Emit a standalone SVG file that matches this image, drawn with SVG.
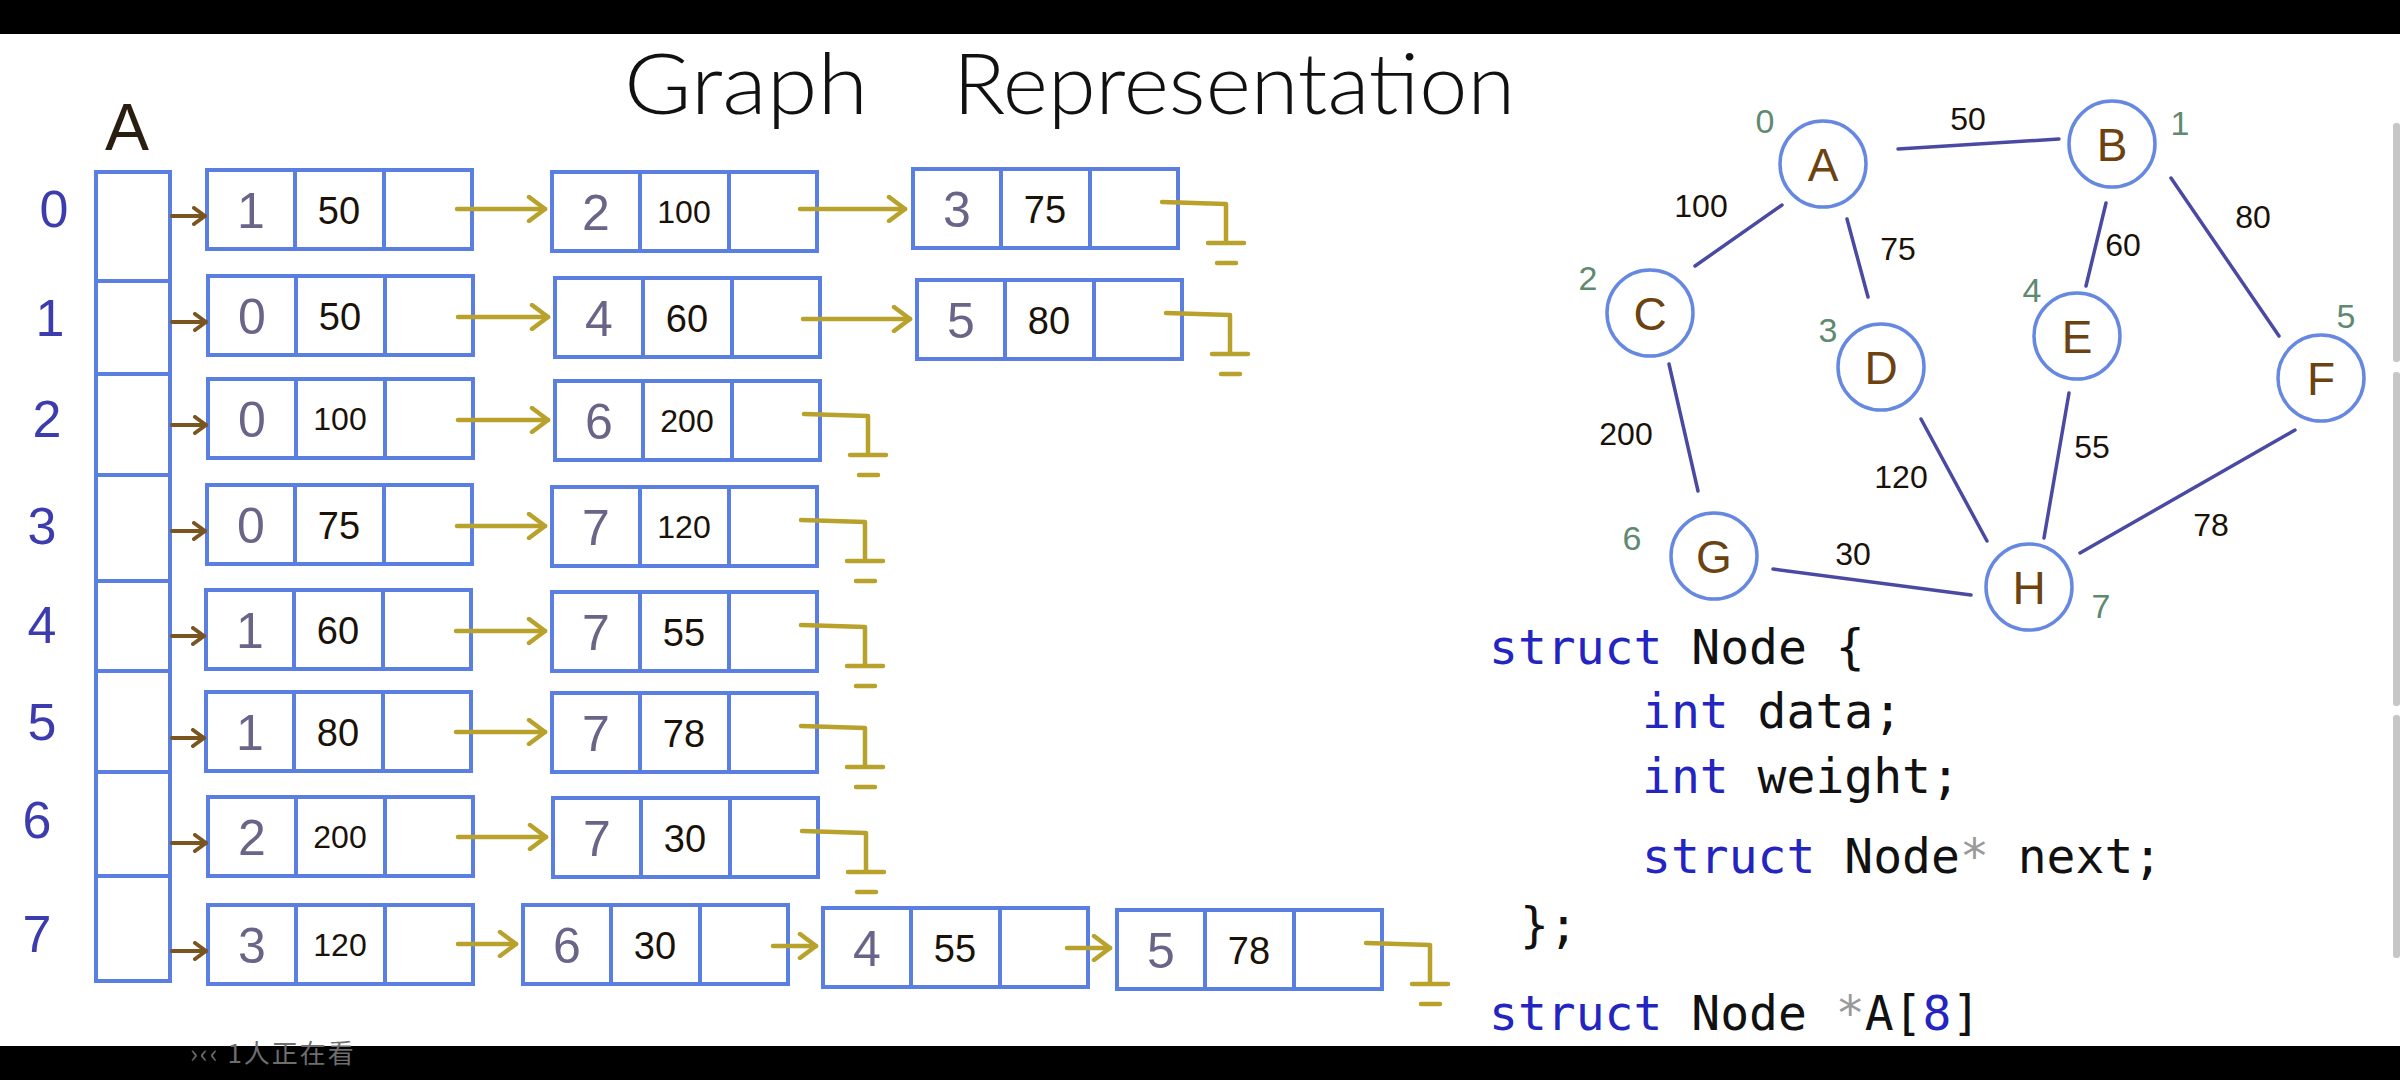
<svg xmlns="http://www.w3.org/2000/svg" width="2400" height="1080" viewBox="0 0 2400 1080">
<defs>
<style>
.cell{fill:#fff;stroke:#5a7fe0;stroke-width:4}
.dv{stroke:#5a7fe0;stroke-width:4}
.hand{font-family:"Liberation Sans","DejaVu Sans",sans-serif}
.title{font-family:Lato,"Liberation Sans",sans-serif;font-weight:300}
.idx{font-family:"Liberation Sans",sans-serif;font-size:50px;fill:#6a6488;text-anchor:middle}
.w{font-family:"Liberation Sans",sans-serif;font-size:38px;fill:#1a1208;text-anchor:middle}
.w3{font-size:32px}
.rl{font-family:"Liberation Sans",sans-serif;font-size:52px;fill:#3c3cae;text-anchor:middle}
.ol{stroke:#b8a22c;stroke-width:4.5;fill:none;stroke-linecap:round;stroke-linejoin:round}
.br{stroke:#7a5520;stroke-width:4;fill:none;stroke-linecap:round}
.edge{stroke:#4a4aa2;stroke-width:3.5;stroke-linecap:round}
.gc{fill:#fff;stroke:#6688e0;stroke-width:3.5}
.gl{font-family:"Liberation Sans",sans-serif;font-size:46px;fill:#6b4210;text-anchor:middle}
.el{font-family:"Liberation Sans",sans-serif;font-size:32px;fill:#1a1208;text-anchor:middle}
.gi{font-family:"Liberation Sans",sans-serif;font-size:34px;fill:#5f8a70;text-anchor:middle}
.code{font-family:"DejaVu Sans Mono","Liberation Mono",monospace;font-size:48px;fill:#111}
.kw{fill:#2424c0}
.star{fill:#9a9a9a}
</style>
<marker id="ahO" viewBox="0 0 24 28" refX="21" refY="14" markerWidth="24" markerHeight="28" markerUnits="userSpaceOnUse" orient="auto">
<path d="M5,2 L21,14 L5,26" fill="none" stroke="#b8a22c" stroke-width="4.5" stroke-linecap="round" stroke-linejoin="round"/>
</marker>
<marker id="ahB" viewBox="0 0 16 20" refX="14" refY="10" markerWidth="16" markerHeight="20" markerUnits="userSpaceOnUse" orient="auto">
<path d="M3,2 L14,10 L3,18" fill="none" stroke="#7a5520" stroke-width="4" stroke-linecap="round" stroke-linejoin="round"/>
</marker>
</defs>
<rect x="0" y="0" width="2400" height="1080" fill="#fff"/>
<rect x="0" y="0" width="2400" height="34" fill="#000"/>
<rect x="0" y="1046" width="2400" height="34" fill="#000"/>
<text x="190" y="1063" font-family="'Noto Sans CJK SC','Noto Sans',sans-serif" font-size="26" letter-spacing="2" fill="#6e6e6e">›‹‹ 1人正在看</text>
<g id="scrollbar" fill="#c6c6c6">
<rect x="2393" y="123" width="7" height="239" rx="3"/>
<rect x="2393" y="372" width="7" height="334" rx="3"/>
<rect x="2393" y="715" width="7" height="243" rx="3"/>
</g>

<g id="title" class="title" font-size="84" fill="#111">
<text x="624" y="114" textLength="244" lengthAdjust="spacingAndGlyphs">Graph</text>
<text x="953" y="114" textLength="562" lengthAdjust="spacingAndGlyphs">Representation</text>
</g>

<g id="array">
<text x="127" y="150" class="hand" font-size="66" fill="#2a1e10" text-anchor="middle">A</text>
<rect class="cell" x="96" y="172" width="74" height="809"/>
<line class="dv" x1="96" y1="281" x2="170" y2="281"/>
<line class="dv" x1="96" y1="374" x2="170" y2="374"/>
<line class="dv" x1="96" y1="475" x2="170" y2="475"/>
<line class="dv" x1="96" y1="581" x2="170" y2="581"/>
<line class="dv" x1="96" y1="671" x2="170" y2="671"/>
<line class="dv" x1="96" y1="772" x2="170" y2="772"/>
<line class="dv" x1="96" y1="876" x2="170" y2="876"/>
<text class="rl" x="54" y="227">0</text>
<text class="rl" x="50" y="336">1</text>
<text class="rl" x="47" y="437">2</text>
<text class="rl" x="42" y="544">3</text>
<text class="rl" x="42" y="643">4</text>
<text class="rl" x="42" y="740">5</text>
<text class="rl" x="37" y="838">6</text>
<text class="rl" x="37" y="952">7</text>
</g>

<g id="n0_0" transform="translate(207,170)"><rect class="cell" width="265" height="79"/><line class="dv" x1="88" y1="0" x2="88" y2="79"/><line class="dv" x1="177" y1="0" x2="177" y2="79"/><text class="idx" x="44" y="57.5">1</text><text class="w" x="132" y="53.5">50</text></g>
<g id="n0_1" transform="translate(552,172)"><rect class="cell" width="265" height="79"/><line class="dv" x1="88" y1="0" x2="88" y2="79"/><line class="dv" x1="177" y1="0" x2="177" y2="79"/><text class="idx" x="44" y="57.5">2</text><text class="w w3" x="132" y="51">100</text></g>
<g id="n0_2" transform="translate(913,169)"><rect class="cell" width="265" height="79"/><line class="dv" x1="88" y1="0" x2="88" y2="79"/><line class="dv" x1="177" y1="0" x2="177" y2="79"/><text class="idx" x="44" y="57.5">3</text><text class="w" x="132" y="53.5">75</text></g>

<g id="n1_0" transform="translate(208,276)"><rect class="cell" width="265" height="79"/><line class="dv" x1="88" y1="0" x2="88" y2="79"/><line class="dv" x1="177" y1="0" x2="177" y2="79"/><text class="idx" x="44" y="57.5">0</text><text class="w" x="132" y="53.5">50</text></g>
<g id="n1_1" transform="translate(555,278)"><rect class="cell" width="265" height="79"/><line class="dv" x1="88" y1="0" x2="88" y2="79"/><line class="dv" x1="177" y1="0" x2="177" y2="79"/><text class="idx" x="44" y="57.5">4</text><text class="w" x="132" y="53.5">60</text></g>
<g id="n1_2" transform="translate(917,280)"><rect class="cell" width="265" height="79"/><line class="dv" x1="88" y1="0" x2="88" y2="79"/><line class="dv" x1="177" y1="0" x2="177" y2="79"/><text class="idx" x="44" y="57.5">5</text><text class="w" x="132" y="53.5">80</text></g>

<g id="n2_0" transform="translate(208,379)"><rect class="cell" width="265" height="79"/><line class="dv" x1="88" y1="0" x2="88" y2="79"/><line class="dv" x1="177" y1="0" x2="177" y2="79"/><text class="idx" x="44" y="57.5">0</text><text class="w w3" x="132" y="51">100</text></g>
<g id="n2_1" transform="translate(555,381)"><rect class="cell" width="265" height="79"/><line class="dv" x1="88" y1="0" x2="88" y2="79"/><line class="dv" x1="177" y1="0" x2="177" y2="79"/><text class="idx" x="44" y="57.5">6</text><text class="w w3" x="132" y="51">200</text></g>

<g id="n3_0" transform="translate(207,485)"><rect class="cell" width="265" height="79"/><line class="dv" x1="88" y1="0" x2="88" y2="79"/><line class="dv" x1="177" y1="0" x2="177" y2="79"/><text class="idx" x="44" y="57.5">0</text><text class="w" x="132" y="53.5">75</text></g>
<g id="n3_1" transform="translate(552,487)"><rect class="cell" width="265" height="79"/><line class="dv" x1="88" y1="0" x2="88" y2="79"/><line class="dv" x1="177" y1="0" x2="177" y2="79"/><text class="idx" x="44" y="57.5">7</text><text class="w w3" x="132" y="51">120</text></g>

<g id="n4_0" transform="translate(206,590)"><rect class="cell" width="265" height="79"/><line class="dv" x1="88" y1="0" x2="88" y2="79"/><line class="dv" x1="177" y1="0" x2="177" y2="79"/><text class="idx" x="44" y="57.5">1</text><text class="w" x="132" y="53.5">60</text></g>
<g id="n4_1" transform="translate(552,592)"><rect class="cell" width="265" height="79"/><line class="dv" x1="88" y1="0" x2="88" y2="79"/><line class="dv" x1="177" y1="0" x2="177" y2="79"/><text class="idx" x="44" y="57.5">7</text><text class="w" x="132" y="53.5">55</text></g>

<g id="n5_0" transform="translate(206,692)"><rect class="cell" width="265" height="79"/><line class="dv" x1="88" y1="0" x2="88" y2="79"/><line class="dv" x1="177" y1="0" x2="177" y2="79"/><text class="idx" x="44" y="57.5">1</text><text class="w" x="132" y="53.5">80</text></g>
<g id="n5_1" transform="translate(552,693)"><rect class="cell" width="265" height="79"/><line class="dv" x1="88" y1="0" x2="88" y2="79"/><line class="dv" x1="177" y1="0" x2="177" y2="79"/><text class="idx" x="44" y="57.5">7</text><text class="w" x="132" y="53.5">78</text></g>

<g id="n6_0" transform="translate(208,797)"><rect class="cell" width="265" height="79"/><line class="dv" x1="88" y1="0" x2="88" y2="79"/><line class="dv" x1="177" y1="0" x2="177" y2="79"/><text class="idx" x="44" y="57.5">2</text><text class="w w3" x="132" y="51">200</text></g>
<g id="n6_1" transform="translate(553,798)"><rect class="cell" width="265" height="79"/><line class="dv" x1="88" y1="0" x2="88" y2="79"/><line class="dv" x1="177" y1="0" x2="177" y2="79"/><text class="idx" x="44" y="57.5">7</text><text class="w" x="132" y="53.5">30</text></g>

<g id="n7_0" transform="translate(208,905)"><rect class="cell" width="265" height="79"/><line class="dv" x1="88" y1="0" x2="88" y2="79"/><line class="dv" x1="177" y1="0" x2="177" y2="79"/><text class="idx" x="44" y="57.5">3</text><text class="w w3" x="132" y="51">120</text></g>
<g id="n7_1" transform="translate(523,905)"><rect class="cell" width="265" height="79"/><line class="dv" x1="88" y1="0" x2="88" y2="79"/><line class="dv" x1="177" y1="0" x2="177" y2="79"/><text class="idx" x="44" y="57.5">6</text><text class="w" x="132" y="53.5">30</text></g>
<g id="n7_2" transform="translate(823,908)"><rect class="cell" width="265" height="79"/><line class="dv" x1="88" y1="0" x2="88" y2="79"/><line class="dv" x1="177" y1="0" x2="177" y2="79"/><text class="idx" x="44" y="57.5">4</text><text class="w" x="132" y="53.5">55</text></g>
<g id="n7_3" transform="translate(1117,910)"><rect class="cell" width="265" height="79"/><line class="dv" x1="88" y1="0" x2="88" y2="79"/><line class="dv" x1="177" y1="0" x2="177" y2="79"/><text class="idx" x="44" y="57.5">5</text><text class="w" x="132" y="53.5">78</text></g>

<g id="list-connectors">
<path class="br" marker-end="url(#ahB)" d="M172,216 L205,216"/>
<path class="br" marker-end="url(#ahB)" d="M172,322 L206,322"/>
<path class="br" marker-end="url(#ahB)" d="M172,425 L206,425"/>
<path class="br" marker-end="url(#ahB)" d="M172,531 L205,531"/>
<path class="br" marker-end="url(#ahB)" d="M172,636 L204,636"/>
<path class="br" marker-end="url(#ahB)" d="M172,738 L204,738"/>
<path class="br" marker-end="url(#ahB)" d="M172,843 L206,843"/>
<path class="br" marker-end="url(#ahB)" d="M172,951 L206,951"/>

<path class="ol" marker-end="url(#ahO)" d="M457,209 L545,209"/>
<path class="ol" marker-end="url(#ahO)" d="M800,209 L905,209"/>
<path class="ol" marker-end="url(#ahO)" d="M458,317 L548,317"/>
<path class="ol" marker-end="url(#ahO)" d="M803,319 L910,319"/>
<path class="ol" marker-end="url(#ahO)" d="M458,420 L548,420"/>
<path class="ol" marker-end="url(#ahO)" d="M457,526 L545,526"/>
<path class="ol" marker-end="url(#ahO)" d="M456,631 L545,631"/>
<path class="ol" marker-end="url(#ahO)" d="M456,732 L545,732"/>
<path class="ol" marker-end="url(#ahO)" d="M458,837 L546,837"/>
<path class="ol" marker-end="url(#ahO)" d="M458,944 L516,944"/>
<path class="ol" marker-end="url(#ahO)" d="M773,946 L816,946"/>
<path class="ol" marker-end="url(#ahO)" d="M1067,948 L1110,948"/>

<path class="ol" d="M1162,202 L1226,204 L1226,243 M1208,243 L1244,243 M1217,263 L1236,263"/>
<path class="ol" d="M1166,313 L1230,315 L1230,354 M1212,354 L1248,354 M1221,374 L1240,374"/>
<path class="ol" d="M804,414 L868,416 L868,455 M850,455 L886,455 M859,475 L878,475"/>
<path class="ol" d="M801,520 L865,522 L865,561 M847,561 L883,561 M856,581 L875,581"/>
<path class="ol" d="M801,625 L865,627 L865,666 M847,666 L883,666 M856,686 L875,686"/>
<path class="ol" d="M801,726 L865,728 L865,767 M847,767 L883,767 M856,787 L875,787"/>
<path class="ol" d="M802,831 L866,833 L866,872 M848,872 L884,872 M857,892 L876,892"/>
<path class="ol" d="M1366,943 L1430,945 L1430,984 M1412,984 L1448,984 M1421,1004 L1440,1004"/>
</g>

<g id="graph-edges">
<line class="edge" x1="1898" y1="149" x2="2059" y2="139"/>
<line class="edge" x1="1782" y1="205" x2="1695" y2="266"/>
<line class="edge" x1="1847" y1="219" x2="1868" y2="297"/>
<line class="edge" x1="2106" y1="203" x2="2086" y2="286"/>
<line class="edge" x1="2171" y1="178" x2="2279" y2="336"/>
<line class="edge" x1="1669" y1="364" x2="1698" y2="491"/>
<line class="edge" x1="1921" y1="419" x2="1987" y2="541"/>
<line class="edge" x1="2069" y1="393" x2="2044" y2="538"/>
<line class="edge" x1="2295" y1="430" x2="2080" y2="553"/>
<line class="edge" x1="1773" y1="569" x2="1971" y2="595"/>
</g>
<g id="edge-labels">
<text class="el" x="1968" y="130">50</text>
<text class="el" x="1701" y="217">100</text>
<text class="el" x="1898" y="260">75</text>
<text class="el" x="2123" y="256">60</text>
<text class="el" x="2253" y="228">80</text>
<text class="el" x="1626" y="445">200</text>
<text class="el" x="1901" y="488">120</text>
<text class="el" x="2092" y="458">55</text>
<text class="el" x="2211" y="536">78</text>
<text class="el" x="1853" y="565">30</text>
</g>

<g id="gA"><circle class="gc" cx="1823" cy="164" r="43"/><text class="gl" x="1823" y="181">A</text><text class="gi" x="1765" y="133">0</text></g>
<g id="gB"><circle class="gc" cx="2112" cy="144" r="43"/><text class="gl" x="2112" y="161">B</text><text class="gi" x="2180" y="135">1</text></g>
<g id="gC"><circle class="gc" cx="1650" cy="313" r="43"/><text class="gl" x="1650" y="330">C</text><text class="gi" x="1588" y="290">2</text></g>
<g id="gD"><circle class="gc" cx="1881" cy="367" r="43"/><text class="gl" x="1881" y="384">D</text><text class="gi" x="1828" y="342">3</text></g>
<g id="gE"><circle class="gc" cx="2077" cy="336" r="43"/><text class="gl" x="2077" y="353">E</text><text class="gi" x="2032" y="302">4</text></g>
<g id="gF"><circle class="gc" cx="2321" cy="378" r="43"/><text class="gl" x="2321" y="395">F</text><text class="gi" x="2346" y="328">5</text></g>
<g id="gG"><circle class="gc" cx="1714" cy="556" r="43"/><text class="gl" x="1714" y="573">G</text><text class="gi" x="1632" y="550">6</text></g>
<g id="gH"><circle class="gc" cx="2029" cy="587" r="43"/><text class="gl" x="2029" y="604">H</text><text class="gi" x="2101" y="618">7</text></g>

<g id="code" class="code" xml:space="preserve">
<text x="1489" y="664"><tspan class="kw">struct</tspan> Node {</text>
<text x="1642" y="728"><tspan class="kw">int</tspan> data;</text>
<text x="1642" y="793"><tspan class="kw">int</tspan> weight;</text>
<text x="1642" y="873"><tspan class="kw">struct</tspan> Node<tspan class="star">*</tspan> next;</text>
<text x="1520" y="942">};</text>
<text x="1489" y="1030"><tspan class="kw">struct</tspan> Node <tspan class="star">*</tspan>A[<tspan class="kw">8</tspan>]</text>
</g>
</svg>
